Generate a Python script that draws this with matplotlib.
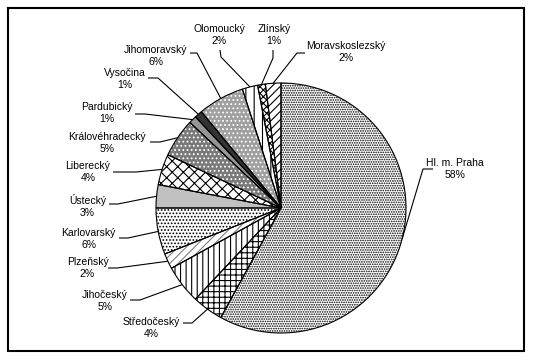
import numpy as np
import matplotlib
matplotlib.use("Agg")
import matplotlib.pyplot as plt

plt.rcParams['font.family'] = ['Liberation Sans', 'DejaVu Sans']
plt.rcParams['hatch.linewidth'] = 0.8

# ---- data ----
regions = ["Hl. m. Praha", "Středočeský", "Jihočeský", "Plzeňský", "Karlovarský",
           "Ústecký", "Liberecký", "Královéhradecký", "Pardubický", "Vysočina",
           "Jihomoravský", "Olomoucký", "Zlínský", "Moravskoslezský"]
shares = [58, 4, 5, 2, 6, 3, 4, 5, 1, 1, 6, 2, 1, 2]

# ---- styles (face colour, hatch, hatch colour) ----
faces = ["white", "white", "white", "white", "white", "#c0c0c0", "white", "#7a7a7a",
         "#969696", "#333333", "#a0a0a0", "white", "white", "white"]
hatches = [".......", "+++", "|||", "////", ".....", None, "xxx", "....",
           None, None, "....", "||", "xxxxx", "////"]
hatch_cols = ["black", "black", "black", "#808080", "black", "black", "black", "white",
              "black", "black", "white", "black", "black", "black"]

# ---- layout (pixels, y from top) ----
W, H = 538, 363
center_px = (281, 208)
radius_px = 125
label_pos = [(455, 168.5), (151, 328), (105, 301.5), (87.5, 268), (88.5, 238.5),
             (87.5, 205.5), (88, 172), (107, 142.5), (107, 113), (125, 79.5),
             (156, 56), (219, 35.5), (274, 35.5), (346, 52)]
leader_start = [(433, 169), (183, 323), (130, 300), (108, 268), (119, 238),
                (109, 204), (113, 172), (150, 142), (135, 114), (148, 78),
                (190, 53), (220, 50), (273, 50), (305, 53)]
leader_elbow = [(423, 169), (192, 323), (140, 300), (117, 268), (128, 238),
                (118, 204), (136, 172), (160, 142), (145, 114), (158, 78),
                (197, 53), (221, 57), (273, 58), (297, 53)]


def Y(y):
    return H - y


fig = plt.figure(figsize=(W / 100, H / 100), dpi=100)
ax = fig.add_axes([0, 0, 1, 1])
center = (center_px[0], Y(center_px[1]))

wedges, _ = ax.pie(shares, startangle=90, counterclock=False, center=center,
                   radius=radius_px, colors=faces,
                   wedgeprops=dict(linewidth=0))
for w, h, hc in zip(wedges, hatches, hatch_cols):
    if h:
        w.set_hatch(h)
        w.set_edgecolor(hc)
        w.set_linewidth(0)

outlines, _ = ax.pie(shares, startangle=90, counterclock=False, center=center,
                     radius=radius_px,
                     wedgeprops=dict(fill=False, edgecolor="black", linewidth=0.8))

total = sum(shares)
for w, name, val, lp, ls, le in zip(outlines, regions, shares, label_pos,
                                    leader_start, leader_elbow):
    mid = np.deg2rad((w.theta1 + w.theta2) / 2)
    ax_x = w.center[0] + w.r * np.cos(mid)
    ax_y = w.center[1] + w.r * np.sin(mid)
    ax.plot([ls[0], le[0], ax_x], [Y(ls[1]), Y(le[1]), ax_y],
            color="black", lw=0.8, solid_capstyle="butt")
    ax.text(lp[0], Y(lp[1]), f"{name}\n{round(100 * val / total)}%",
            ha="center", va="center", fontsize=7.5, linespacing=1.25)

# chart border
ax.plot([8, 524, 524, 8, 8], [Y(8), Y(8), Y(351), Y(351), Y(8)],
        color="black", lw=1.5, solid_joinstyle="miter")

ax.set_xlim(0, W)
ax.set_ylim(0, H)
ax.set_aspect("auto")
ax.axis("off")
fig.savefig("out.png", dpi=100, facecolor="white")
